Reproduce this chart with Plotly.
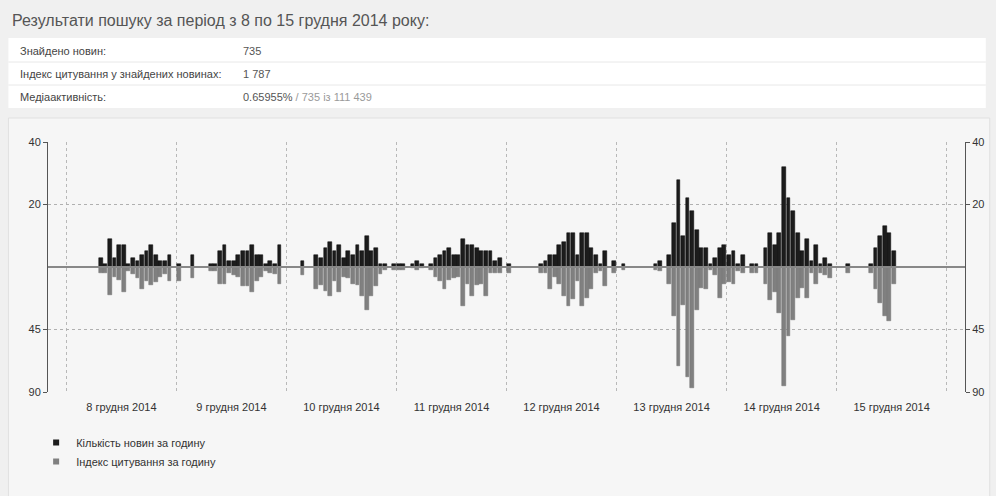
import pandas as pd
import plotly.graph_objects as go

W, H = 996, 496
ML, MR, MT, MB = 48, 21, 142, 104
FONT = 'Liberation Sans, Arial, sans-serif'

title_text = 'Результати пошуку за період з 8 по 15 грудня 2014 року:'
table_labels = ['Знайдено новин:', 'Індекс цитування у знайдених новинах:', 'Медіаактивність:']
table_values = ['735', '1 787', '0.65955% <span style="color:#9a9a9a">/ 735 із 111 439</span>']

days = ['2014-12-08', '2014-12-09', '2014-12-10', '2014-12-11',
        '2014-12-12', '2014-12-13', '2014-12-14', '2014-12-15']
day_labels = ['8 грудня 2014', '9 грудня 2014', '10 грудня 2014', '11 грудня 2014',
              '12 грудня 2014', '13 грудня 2014', '14 грудня 2014', '15 грудня 2014']

# news per hour, hours 0..23 of each day
news_08 = [0, 0, 0, 0, 0, 0, 0, 3, 1, 9, 3, 7, 7, 1, 3, 2, 4, 5, 7, 4, 2, 2, 4, 0]
news_09 = [1, 0, 0, 4, 0, 0, 0, 1, 1, 5, 7, 2, 2, 4, 5, 5, 7, 4, 4, 1, 2, 1, 7, 0]
news_10 = [0, 0, 0, 2, 0, 0, 4, 3, 6, 8, 5, 7, 3, 5, 4, 7, 5, 10, 5, 6, 1, 1, 0, 1]
news_11 = [1, 1, 0, 1, 2, 1, 0, 1, 3, 4, 5, 6, 4, 4, 9, 7, 7, 6, 5, 5, 5, 2, 3, 0]
news_12 = [1, 0, 0, 0, 0, 0, 0, 1, 2, 4, 4, 7, 8, 11, 11, 4, 11, 11, 6, 4, 1, 5, 0, 2]
news_13 = [0, 1, 0, 0, 0, 0, 0, 0, 1, 2, 0, 4, 14, 28, 10, 22, 18, 12, 6, 6, 1, 3, 6, 7]
news_14 = [4, 5, 1, 4, 0, 1, 1, 0, 6, 11, 7, 11, 32, 22, 18, 11, 5, 9, 2, 7, 1, 3, 1, 0]
news_15 = [0, 0, 1, 0, 0, 0, 0, 1, 6, 10, 13, 11, 5, 0, 0, 0, 0, 0, 0, 0, 0, 0, 0, 0]

# citation index per hour
cite_08 = [0, 0, 0, 0, 0, 0, 0, 4, 4, 20, 7, 9, 18, 3, 5, 8, 16, 10, 13, 11, 7, 5, 10, 0]
cite_09 = [10, 0, 0, 8, 0, 0, 0, 3, 3, 12, 12, 4, 6, 7, 14, 14, 18, 10, 7, 3, 4, 5, 12, 0]
cite_10 = [0, 0, 0, 6, 0, 0, 16, 13, 17, 21, 10, 18, 7, 8, 12, 13, 21, 31, 21, 14, 5, 2, 0, 2]
cite_11 = [2, 2, 0, 1, 2, 1, 0, 2, 7, 10, 16, 9, 8, 7, 28, 12, 21, 13, 12, 21, 4, 4, 4, 0]
cite_12 = [4, 0, 0, 0, 0, 0, 0, 4, 4, 16, 7, 12, 21, 28, 23, 10, 28, 22, 16, 4, 3, 14, 0, 4]
cite_13 = [0, 2, 0, 0, 0, 0, 0, 0, 2, 3, 0, 12, 35, 71, 27, 79, 87, 31, 15, 16, 2, 6, 22, 12]
cite_14 = [11, 12, 3, 4, 0, 4, 4, 0, 12, 24, 18, 33, 86, 50, 38, 22, 15, 22, 4, 12, 4, 6, 8, 0]
cite_15 = [0, 0, 4, 0, 0, 0, 0, 4, 16, 26, 35, 39, 12, 0, 0, 0, 0, 0, 0, 0, 0, 0, 0, 0]

news_by_day = [news_08, news_09, news_10, news_11, news_12, news_13, news_14, news_15]
cite_by_day = [cite_08, cite_09, cite_10, cite_11, cite_12, cite_13, cite_14, cite_15]

news_max, news_grid = 40, 20
cite_max, cite_grid = 90, 45


def hourly(per_day):
    xs, ys = [], []
    for day, vals in zip(days, per_day):
        hours = pd.date_range(day, periods=24, freq='h') + pd.Timedelta(minutes=30)
        for t, v in zip(hours, vals):
            if v:
                xs.append(t)
                ys.append(v)
    return xs, ys


def px(x):
    return (x - ML) / (W - ML - MR)


def py(y):
    return (H - MB - y) / (H - MT - MB)


news_x, news_y = hourly(news_by_day)
cite_x, cite_y = hourly(cite_by_day)
bar_w = 0.82 * 3600 * 1000

midnights = pd.date_range(days[0], periods=len(days) + 1, freq='D')
noons = pd.to_datetime(days) + pd.Timedelta(hours=12)
x_start = midnights[0] - pd.Timedelta(hours=4)
x_end = midnights[-1] + pd.Timedelta(hours=4)

fig = go.Figure()
fig.add_trace(go.Bar(x=news_x, y=news_y, width=bar_w, yaxis='y',
                     marker=dict(color='#1c1c1c', line=dict(color='#000000', width=0.5)),
                     name='Кількість новин за годину', showlegend=False))
fig.add_trace(go.Bar(x=cite_x, y=cite_y, width=bar_w, yaxis='y2',
                     marker=dict(color='#808080', line=dict(color='#6c6c6c', width=0.5)),
                     name='Індекс цитування за годину', showlegend=False))
# empty traces so the right-hand axes get drawn
for ax in ['y3', 'y4']:
    fig.add_trace(go.Scatter(x=[None], y=[None], yaxis=ax, showlegend=False,
                             hoverinfo='skip'))
# legend entries with small square swatches
fig.add_trace(go.Scatter(x=[None], y=[None], mode='markers', legendgroup='a',
                         marker=dict(symbol='square', size=6, color='#1c1c1c'),
                         name='Кількість новин за годину'))
fig.add_trace(go.Scatter(x=[None], y=[None], mode='markers', legendgroup='b',
                         marker=dict(symbol='square', size=6, color='#808080'),
                         name='Індекс цитування за годину'))

tick_font = dict(family=FONT, size=11, color='#333')
axis_common = dict(showline=True, linecolor='#555', linewidth=1, ticks='outside',
                   ticklen=4, tickcolor='#555', tickfont=tick_font,
                   showgrid=False, zeroline=False, fixedrange=True)
grid_line = dict(color='#b0b0b0', width=1, dash='3px,3px')

# the citation grid value expressed on the (mirrored) news axis
cite_grid_on_news = -cite_grid * news_max / cite_max

shapes = [
    dict(type='rect', xref='paper', yref='paper', x0=px(8), x1=px(996), y0=py(108), y1=py(38),
         fillcolor='#ffffff', line=dict(width=0), layer='below'),
    dict(type='line', xref='paper', yref='paper', x0=px(8), x1=px(996), y0=py(62), y1=py(62),
         line=dict(color='#e8e8e8', width=1), layer='below'),
    dict(type='line', xref='paper', yref='paper', x0=px(8), x1=px(996), y0=py(85), y1=py(85),
         line=dict(color='#e8e8e8', width=1), layer='below'),
    dict(type='rect', xref='paper', yref='paper', x0=px(8), x1=px(1000), y0=py(500), y1=py(118),
         fillcolor='#f6f6f6', line=dict(color='#e0e0e0', width=1), layer='below'),
    # dashed horizontal grid: 20 news above, 45 citations below
    dict(type='line', xref='x', yref='y', x0=x_start, x1=x_end, y0=news_grid, y1=news_grid,
         line=grid_line, layer='between'),
    dict(type='line', xref='x', yref='y', x0=x_start, x1=x_end,
         y0=cite_grid_on_news, y1=cite_grid_on_news, line=grid_line, layer='between'),
    # baseline drawn over the bars
    dict(type='line', xref='x', yref='y', x0=x_start, x1=x_end, y0=0, y1=0,
         line=dict(color='#888888', width=2), layer='above'),
]

annotations = [dict(text=title_text, x=px(10), y=py(20), xref='paper', yref='paper',
                    xanchor='left', yanchor='middle', showarrow=False,
                    font=dict(family=FONT, size=16, color='#555'))]
for lbl, val, ry in zip(table_labels, table_values, [51, 74, 97]):
    annotations.append(dict(text=lbl, x=px(18), y=py(ry), xref='paper', yref='paper',
                            xanchor='left', yanchor='middle', showarrow=False,
                            font=dict(family=FONT, size=11, color='#444')))
    annotations.append(dict(text=val, x=px(243), y=py(ry), xref='paper', yref='paper',
                            xanchor='left', yanchor='middle', showarrow=False,
                            font=dict(family=FONT, size=11, color='#555')))

fig.update_layout(
    width=W, height=H,
    margin=dict(l=ML, r=MR, t=MT, b=MB, pad=0),
    paper_bgcolor='#f0f0f0',
    plot_bgcolor='rgba(0,0,0,0)',
    font=dict(family=FONT, size=11, color='#333'),
    barmode='overlay',
    bargap=0,
    xaxis=dict(type='date', range=[x_start, x_end],
               tickvals=noons, ticktext=day_labels, ticks='outside', ticklen=5,
               tickcolor='rgba(0,0,0,0)', tickfont=tick_font, showline=False,
               showgrid=False, zeroline=False, fixedrange=True,
               minor=dict(tickvals=midnights, showgrid=True, gridcolor='#b8b8b8',
                          griddash='3px,3px', gridwidth=1, ticks='')),
    yaxis=dict(range=[-news_max, news_max], tickvals=[news_grid, news_max], side='left',
               **axis_common),
    yaxis2=dict(range=[cite_max, -cite_max], tickvals=[cite_grid, cite_max], overlaying='y',
                side='left', anchor='x', **axis_common),
    yaxis3=dict(range=[-news_max, news_max], tickvals=[news_grid, news_max], overlaying='y',
                side='right', anchor='x', **axis_common),
    yaxis4=dict(range=[cite_max, -cite_max], tickvals=[cite_grid, cite_max], overlaying='y',
                side='right', anchor='x', **axis_common),
    legend=dict(x=px(36), y=py(428), xanchor='left', yanchor='top',
                bgcolor='rgba(0,0,0,0)', font=dict(family=FONT, size=11, color='#333'),
                tracegroupgap=13, traceorder='normal'),
    shapes=shapes,
    annotations=annotations,
)

fig.write_html("out.html", config={'displayModeBar': False},
               post_script="document.body.style.margin='0';document.body.style.overflow='hidden';")
